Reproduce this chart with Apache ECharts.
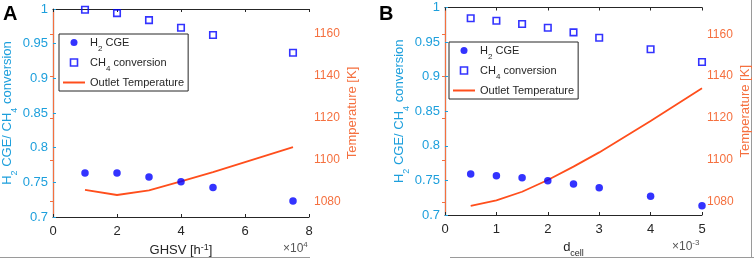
<!DOCTYPE html>
<html>
<head>
<meta charset="utf-8">
<script src="https://cdn.jsdelivr.net/npm/echarts@6/dist/echarts.min.js"></script>
<style>
  html, body { margin: 0; padding: 0; background: #fff; }
  #chart { width: 754px; height: 260px; }
</style>
</head>
<body>
<div id="chart"></div>
<script>
// panel A: GHSV sweep (x in units of 1e4 h^-1)
const ghsv = [1, 2, 3, 4, 5, 7.5]
const cgeA = [0.7635, 0.7635, 0.7577, 0.751, 0.7427, 0.723]
const ch4A = [0.999, 0.994, 0.984, 0.973, 0.9625, 0.937]
const tempA = [1085.6, 1083.2, 1085.4, 1089.7, 1094.1, 1106.1]

// panel B: cell size sweep (x in units of 1e-3)
const dcell = [0.5, 1, 1.5, 2, 2.5, 3, 4, 5]
const cgeB = [0.7593, 0.7568, 0.7539, 0.7496, 0.7448, 0.7395, 0.727, 0.7134]
const ch4B = [0.9844, 0.9809, 0.9761, 0.9708, 0.9641, 0.9563, 0.9396, 0.9212]
const tempB = [1078.1, 1080.7, 1084.8, 1090.4, 1096.8, 1103.6, 1118.6, 1134.2]

// axis ranges / ticks
const xRangeA = [0, 8]
const xStepA = 2
const xRangeB = [0, 5]
const xStepB = 1
const leftRange = [0.7, 1]
const leftStep = 0.05
const tempRangeA = [1072.7, 1172]
const tempRangeB = [1073.7, 1172.8]
const tempStep = 20

const BLUE_AX = '#1d9fdc'
const ORANGE_AX = '#f5703f'
const LINE_C = '#ff4e1c'
const MARK_C = '#0000ff'
const DARK = '#262626'
const FONT = 'Liberation Sans, Arial, sans-serif'

const chart = echarts.init(document.getElementById('chart'), null, { renderer: 'canvas' })

const zip = (xs, ys) => xs.map((x, i) => [x, ys[i]])

const subRich = {
  n: { fontSize: 13, fontFamily: FONT, lineHeight: 16 },
  s: { fontSize: 9, fontFamily: FONT, verticalAlign: 'bottom', lineHeight: 9, padding: [0, 0, -3, 0] },
  p: { fontSize: 9, fontFamily: FONT, verticalAlign: 'top', lineHeight: 9 }
}

function legendFmt(name) {
  if (name === 'H2 CGE') return '{n|H}{s|2}{n| CGE}'
  if (name === 'CH4 conversion') return '{n|CH}{s|4}{n| conversion}'
  return '{n|' + name + '}'
}

function buildGrid(g) {
  return { left: g.left, top: g.top, width: g.width, height: g.height, outerBoundsMode: 'none' }
}

function xAxes(gi, range, step, name) {
  return [
    {
      type: 'value', gridIndex: gi, position: 'bottom',
      min: range[0], max: range[1], interval: step,
      name: name, nameLocation: 'middle', nameGap: 23,
      nameTextStyle: { color: DARK, rich: subRich },
      axisLine: { lineStyle: { color: DARK, width: 1 } },
      axisTick: { inside: true, length: 3, lineStyle: { color: DARK } },
      axisLabel: { color: DARK, fontSize: 13, fontFamily: FONT, margin: 8 },
      splitLine: { show: false }
    },
    {
      type: 'value', gridIndex: gi, position: 'top',
      min: range[0], max: range[1], interval: step,
      axisLine: { lineStyle: { color: DARK, width: 1 } },
      axisTick: { inside: true, length: 3, lineStyle: { color: DARK } },
      axisLabel: { show: false },
      splitLine: { show: false }
    }
  ]
}

function yAxes(gi, tRange) {
  return [
    {
      type: 'value', gridIndex: gi, position: 'left',
      min: leftRange[0], max: leftRange[1], interval: leftStep,
      name: '{n|H}{s|2}{n| CGE/ CH}{s|4}{n| conversion}',
      nameLocation: 'middle', nameRotate: 90, nameGap: 35,
      nameTextStyle: { color: BLUE_AX, rich: subRich },
      axisLine: { lineStyle: { color: BLUE_AX, width: 1.2 } },
      axisTick: { inside: true, length: 3, lineStyle: { color: BLUE_AX } },
      axisLabel: { color: BLUE_AX, fontSize: 13, fontFamily: FONT, margin: 5 },
      splitLine: { show: false }
    },
    {
      type: 'value', gridIndex: gi, position: 'right',
      min: tRange[0], max: tRange[1], splitNumber: 5,
      name: 'Temperature [K]',
      nameLocation: 'middle', nameRotate: 90, nameGap: 37,
      nameTextStyle: { color: ORANGE_AX, fontSize: 13, fontFamily: FONT },
      axisLine: { lineStyle: { color: ORANGE_AX, width: 1.2 } },
      axisTick: { inside: true, length: 3, lineStyle: { color: ORANGE_AX } },
      axisLabel: {
        color: ORANGE_AX, fontSize: 12, fontFamily: FONT, margin: 5,
        showMinLabel: false, showMaxLabel: false,
        formatter: v => (Math.abs(v % tempStep) < 1e-6 ? String(v) : '')
      },
      splitLine: { show: false }
    }
  ]
}

function panelSeries(xi, yi, xs, cge, ch4, temp) {
  return [
    {
      name: 'H2 CGE', type: 'scatter', xAxisIndex: xi, yAxisIndex: yi,
      symbol: 'circle', symbolSize: 7.5, clip: false, z: 5,
      itemStyle: { color: MARK_C },
      data: zip(xs, cge)
    },
    {
      name: 'CH4 conversion', type: 'scatter', xAxisIndex: xi, yAxisIndex: yi,
      symbol: 'rect', symbolSize: 6.5, clip: false, z: 5,
      itemStyle: { color: 'rgba(0,0,0,0)', borderColor: MARK_C, borderWidth: 1.6 },
      data: zip(xs, ch4)
    },
    {
      name: 'Outlet Temperature', type: 'line', xAxisIndex: xi, yAxisIndex: yi + 1,
      symbol: 'none', showSymbol: false, z: 4,
      lineStyle: { color: LINE_C, width: 1.8 },
      itemStyle: { color: LINE_C },
      data: zip(xs, temp)
    }
  ]
}

const SQUARE_ICON = 'path://M0,0H10V10H0Z'

function legendAt(left, top) {
  return {
    orient: 'vertical', left: left, top: top,
    data: [
      { name: 'H2 CGE', icon: 'circle' },
      { name: 'CH4 conversion', icon: SQUARE_ICON, itemStyle: { color: 'rgba(0,0,0,0)', borderColor: MARK_C, borderWidth: 1.6 } },
      { name: 'Outlet Temperature', itemStyle: { opacity: 0 } }
    ],
    symbolKeepAspect: true,
    backgroundColor: '#fff', borderColor: DARK, borderWidth: 1,
    padding: [3, 4, 3, 3], itemGap: 4.5, itemWidth: 22, itemHeight: 7,
    selectedMode: false,
    formatter: legendFmt,
    textStyle: {
      color: DARK,
      rich: {
        n: { fontSize: 11, fontFamily: FONT, lineHeight: 14 },
        s: { fontSize: 8, fontFamily: FONT, verticalAlign: 'bottom', lineHeight: 8, padding: [0, 0, -3, 0] }
      }
    }
  }
}

const xNameA = '{n|GHSV [h}{p|-1}{n|]}'
const xNameB = '{n|d}{s|cell}'

chart.setOption({
  animation: false,
  textStyle: { fontFamily: FONT },
  grid: [
    buildGrid({ left: 53, top: 9, width: 256, height: 208 }),
    buildGrid({ left: 445, top: 7.5, width: 257, height: 207.5 })
  ],
  xAxis: [].concat(xAxes(0, xRangeA, xStepA, xNameA), xAxes(1, xRangeB, xStepB, xNameB)),
  yAxis: [].concat(yAxes(0, tempRangeA), yAxes(1, tempRangeB)),
  legend: [legendAt(59, 34), legendAt(449, 42)],
  series: [].concat(
    panelSeries(0, 0, ghsv, cgeA, ch4A, tempA),
    panelSeries(2, 2, dcell, cgeB, ch4B, tempB)
  ),
  graphic: [
    { type: 'text', left: 3, top: 4, style: { text: 'A', fontSize: 20, fontWeight: 'bold', fontFamily: FONT, fill: '#000' } },
    { type: 'text', left: 379, top: 4, style: { text: 'B', fontSize: 20, fontWeight: 'bold', fontFamily: FONT, fill: '#000' } },
    {
      type: 'text', left: 283, top: 241,
      style: {
        text: '{a|\u00d710}{b|4}', fill: '#555',
        rich: { a: { fontSize: 12, fontFamily: FONT, lineHeight: 16 }, b: { fontSize: 8, fontFamily: FONT, verticalAlign: 'top', lineHeight: 8 } }
      }
    },
    {
      type: 'text', left: 672, top: 239,
      style: {
        text: '{a|\u00d710}{b|-3}', fill: '#555',
        rich: { a: { fontSize: 12, fontFamily: FONT, lineHeight: 16 }, b: { fontSize: 8, fontFamily: FONT, verticalAlign: 'top', lineHeight: 8 } }
      }
    },
    { type: 'line', shape: { x1: 0, y1: 257.5, x2: 310, y2: 257.5 }, style: { stroke: '#9a9a9a', lineWidth: 1 } },
    { type: 'line', shape: { x1: 450, y1: 257.5, x2: 754, y2: 257.5 }, style: { stroke: '#9a9a9a', lineWidth: 1 } },
    { type: 'line', shape: { x1: 751.5, y1: 0, x2: 751.5, y2: 257 }, style: { stroke: '#9a9a9a', lineWidth: 1 } }
  ]
})
</script>
</body>
</html>
